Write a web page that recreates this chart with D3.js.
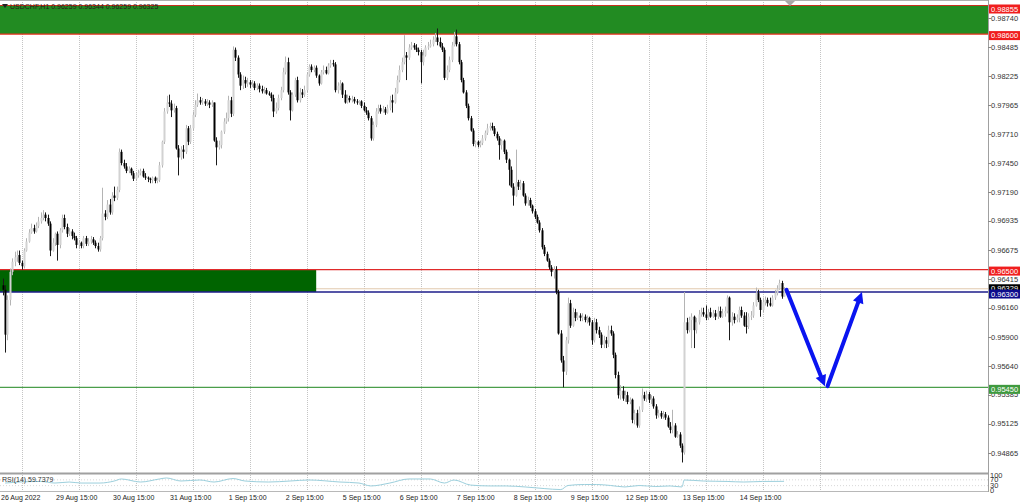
<!DOCTYPE html>
<html><head><meta charset="utf-8">
<script src="https://cdn.jsdelivr.net/npm/d3@7"></script>
<style>
body{margin:0;background:#fff;overflow:hidden}
svg{display:block}
text{font-family:"Liberation Sans",Arial,sans-serif}
</style>
</head><body>
<svg id="c" width="1024" height="503"></svg>
<script>
// ---- DATA (USDCHF H1, bar 0 = 26 Aug 2022 07:00) ----
const opens=[
0.9636,0.9632,0.9592,0.9623,0.9648,0.9657,0.9661,0.9663,0.9656,0.9653,
0.9667,0.9675,0.9683,0.9687,0.9684,0.9689,0.9693,0.9696,0.9699,0.9696,
0.9691,0.9667,0.9674,0.9682,0.9672,0.9685,0.9696,0.9688,0.9682,0.9684,
0.9680,0.9678,0.9672,0.9674,0.9671,0.9678,0.9673,0.9675,0.9677,0.9674,
0.9671,0.9668,0.9678,0.9700,0.9697,0.9708,0.9701,0.9716,0.9714,0.9721,
0.9755,0.9745,0.9742,0.9738,0.9740,0.9736,0.9731,0.9734,0.9736,0.9738,
0.9733,0.9732,0.9731,0.9730,0.9732,0.9729,0.9730,0.9743,0.9764,0.9791,
0.9799,0.9798,0.9792,0.9794,0.9758,0.9750,0.9757,0.9755,0.9776,0.9764,
0.9776,0.9788,0.9797,0.9801,0.9799,0.9800,0.9798,0.9799,0.9797,0.9799,
0.9765,0.9759,0.9761,0.9773,0.9782,0.9785,0.9801,0.9789,0.9846,0.9839,
0.9824,0.9814,0.9819,0.9816,0.9817,0.9815,0.9816,0.9812,0.9814,0.9811,
0.9809,0.9810,0.9807,0.9806,0.9803,0.9791,0.9794,0.9803,0.9810,0.9826,
0.9835,0.9808,0.9792,0.9806,0.9819,0.9801,0.9808,0.9806,0.9810,0.9824,
0.9831,0.9828,0.9830,0.9823,0.9816,0.9826,0.9828,0.9825,0.9832,0.9834,
0.9833,0.9810,0.9814,0.9816,0.9806,0.9799,0.9803,0.9801,0.9802,0.9800,
0.9799,0.9800,0.9796,0.9792,0.9790,0.9785,0.9767,0.9779,0.9791,0.9794,
0.9791,0.9793,0.9790,0.9794,0.9801,0.9799,0.9808,0.9819,0.9828,0.9835,
0.9841,0.9839,0.9848,0.9850,0.9848,0.9846,0.9844,0.9835,0.9841,0.9848,
0.9849,0.9851,0.9855,0.9857,0.9853,0.9849,0.9846,0.9821,0.9828,0.9837,
0.9850,0.9858,0.9851,0.9835,0.9819,0.9808,0.9796,0.9785,0.9774,0.9762,
0.9764,0.9761,0.9763,0.9767,0.9772,0.9776,0.9778,0.9776,0.9771,0.9767,
0.9761,0.9765,0.9755,0.9748,0.9739,0.9724,0.9716,0.9728,0.9724,0.9727,
0.9716,0.9709,0.9712,0.9707,0.9702,0.9697,0.9692,0.9685,0.9670,0.9664,
0.9658,0.9652,0.9648,0.9650,0.9630,0.9593,0.9569,0.9559,0.9587,0.9620,
0.9600,0.9612,0.9607,0.9609,0.9607,0.9608,0.9605,0.9607,0.9603,0.9587,
0.9603,0.9596,0.9592,0.9583,0.9587,0.9584,0.9596,0.9593,0.9574,0.9556,
0.9538,0.9542,0.9535,0.9538,0.9532,0.9534,0.9516,0.9522,0.9511,0.9525,
0.9538,0.9535,0.9539,0.9534,0.9535,0.9528,0.9520,0.9522,0.9519,0.9521,
0.9518,0.9510,0.9507,0.9511,0.9501,0.9503,0.9493,0.9487,0.9603,0.9596,
0.9605,0.9608,0.9596,0.9603,0.9610,0.9612,0.9610,0.9607,0.9612,0.9608,
0.9611,0.9608,0.9613,0.9608,0.9611,0.9613,0.9625,0.9603,0.9608,0.9605,
0.9607,0.9614,0.9609,0.9600,0.9599,0.9608,0.9609,0.9618,0.9629,0.9623,
0.9614,0.9621,0.9623,0.9620,0.9618,0.9625,0.9629,0.9633,0.9638,0.96259];
const highs=[
0.9642,0.9636,0.9627,0.9651,0.9660,0.9666,0.9667,0.9667,0.9658,0.9669,
0.9678,0.9686,0.9691,0.9690,0.9692,0.9697,0.9701,0.9703,0.9701,0.9699,
0.9693,0.9678,0.9683,0.9684,0.9687,0.9699,0.9699,0.9691,0.9687,0.9686,
0.9683,0.9680,0.9676,0.9675,0.9680,0.9680,0.9678,0.9680,0.9679,0.9676,
0.9674,0.9680,0.9723,0.9703,0.9712,0.9713,0.9719,0.9724,0.9724,0.9758,
0.9757,0.9748,0.9745,0.9742,0.9741,0.9738,0.9737,0.9739,0.9740,0.9740,
0.9736,0.9733,0.9732,0.9733,0.9733,0.9732,0.9746,0.9765,0.9794,0.9805,
0.9806,0.9801,0.9798,0.9796,0.9761,0.9760,0.9761,0.9779,0.9778,0.9779,
0.9791,0.9801,0.9807,0.9804,0.9803,0.9802,0.9802,0.9801,0.9801,0.9799,
0.9768,0.9765,0.9774,0.9785,0.9790,0.9805,0.9804,0.9849,0.9848,0.9841,
0.9826,0.9823,0.9822,0.9821,0.9819,0.9819,0.9818,0.9816,0.9816,0.9814,
0.9813,0.9812,0.9809,0.9808,0.9806,0.9799,0.9806,0.9813,0.9830,0.9840,
0.9839,0.9810,0.9808,0.9821,0.9822,0.9812,0.9811,0.9814,0.9826,0.9833,
0.9833,0.9832,0.9832,0.9824,0.9828,0.9832,0.9831,0.9834,0.9837,0.9837,
0.9835,0.9817,0.9819,0.9817,0.9810,0.9806,0.9805,0.9805,0.9804,0.9802,
0.9801,0.9801,0.9799,0.9795,0.9792,0.9787,0.9782,0.9794,0.9797,0.9797,
0.9796,0.9795,0.9797,0.9805,0.9806,0.9812,0.9823,0.9832,0.9839,0.9859,
0.9844,0.9851,0.9853,0.9852,0.9851,0.9848,0.9846,0.9846,0.9850,0.9853,
0.9855,0.9858,0.9861,0.9865,0.9857,0.9852,0.9848,0.9832,0.9840,0.9853,
0.9862,0.9864,0.9853,0.9837,0.9821,0.9810,0.9798,0.9787,0.9776,0.9765,
0.9765,0.9765,0.9770,0.9774,0.9780,0.9781,0.9781,0.9778,0.9773,0.9769,
0.9766,0.9766,0.9757,0.9749,0.9742,0.9727,0.9757,0.9730,0.9730,0.9729,
0.9718,0.9715,0.9714,0.9708,0.9704,0.9699,0.9694,0.9687,0.9672,0.9666,
0.9660,0.9654,0.9653,0.9653,0.9632,0.9596,0.9573,0.9590,0.9625,0.9623,
0.9616,0.9615,0.9612,0.9611,0.9611,0.9610,0.9609,0.9608,0.9605,0.9607,
0.9606,0.9599,0.9594,0.9591,0.9590,0.9600,0.9600,0.9595,0.9576,0.9559,
0.9547,0.9546,0.9542,0.9541,0.9536,0.9535,0.9525,0.9525,0.9528,0.9544,
0.9541,0.9542,0.9541,0.9538,0.9537,0.9530,0.9525,0.9524,0.9524,0.9523,
0.9520,0.9514,0.9525,0.9513,0.9506,0.9505,0.9495,0.9630,0.9607,0.9608,
0.9611,0.9609,0.9607,0.9614,0.9616,0.9616,0.9618,0.9615,0.9616,0.9614,
0.9614,0.9617,0.9617,0.9615,0.9617,0.9627,0.9626,0.9612,0.9611,0.9610,
0.9617,0.9617,0.9612,0.9612,0.9611,0.9613,0.9621,0.9634,0.9632,0.9625,
0.9625,0.9626,0.9625,0.9625,0.9627,0.9632,0.9636,0.9641,0.9640,0.96344];
const lows=[
0.9627,0.9576,0.9587,0.9618,0.9645,0.9653,0.9657,0.9654,0.9650,0.9651,
0.9666,0.9674,0.9682,0.9682,0.9683,0.9687,0.9691,0.9694,0.9693,0.9689,
0.9662,0.9666,0.9671,0.9658,0.9669,0.9683,0.9686,0.9679,0.9680,0.9677,
0.9676,0.9669,0.9669,0.9669,0.9669,0.9671,0.9671,0.9673,0.9672,0.9669,
0.9666,0.9666,0.9676,0.9694,0.9695,0.9699,0.9699,0.9711,0.9712,0.9719,
0.9743,0.9740,0.9736,0.9736,0.9734,0.9729,0.9729,0.9732,0.9734,0.9732,
0.9730,0.9728,0.9727,0.9727,0.9727,0.9727,0.9728,0.9741,0.9762,0.9789,
0.9795,0.9786,0.9790,0.9757,0.9734,0.9748,0.9749,0.9753,0.9761,0.9762,
0.9774,0.9786,0.9795,0.9797,0.9797,0.9796,0.9796,0.9794,0.9795,0.9764,
0.9743,0.9757,0.9758,0.9771,0.9780,0.9782,0.9786,0.9787,0.9836,0.9821,
0.9810,0.9811,0.9812,0.9813,0.9812,0.9813,0.9810,0.9810,0.9808,0.9807,
0.9807,0.9806,0.9805,0.9800,0.9786,0.9789,0.9792,0.9801,0.9808,0.9824,
0.9806,0.9783,0.9791,0.9804,0.9799,0.9799,0.9803,0.9804,0.9808,0.9822,
0.9826,0.9826,0.9821,0.9814,0.9815,0.9824,0.9824,0.9824,0.9830,0.9831,
0.9808,0.9807,0.9810,0.9803,0.9798,0.9798,0.9799,0.9799,0.9798,0.9797,
0.9797,0.9794,0.9791,0.9788,0.9783,0.9765,0.9765,0.9777,0.9789,0.9789,
0.9790,0.9788,0.9789,0.9792,0.9790,0.9798,0.9807,0.9817,0.9826,0.9833,
0.9819,0.9837,0.9846,0.9846,0.9844,0.9841,0.9816,0.9832,0.9840,0.9846,
0.9848,0.9849,0.9853,0.9850,0.9848,0.9844,0.9819,0.9819,0.9826,0.9835,
0.9849,0.9849,0.9833,0.9817,0.9807,0.9794,0.9783,0.9773,0.9760,0.9759,
0.9759,0.9759,0.9761,0.9765,0.9770,0.9774,0.9774,0.9769,0.9765,0.9748,
0.9757,0.9753,0.9745,0.9725,0.9723,0.9707,0.9715,0.9721,0.9721,0.9715,
0.9707,0.9707,0.9705,0.9700,0.9695,0.9691,0.9683,0.9668,0.9662,0.9657,
0.9650,0.9644,0.9642,0.9628,0.9592,0.9567,0.9545,0.9556,0.9584,0.9598,
0.9599,0.9604,0.9605,0.9604,0.9604,0.9603,0.9602,0.9600,0.9583,0.9585,
0.9593,0.9589,0.9580,0.9580,0.9580,0.9581,0.9591,0.9571,0.9553,0.9535,
0.9534,0.9533,0.9532,0.9530,0.9530,0.9513,0.9512,0.9509,0.9509,0.9523,
0.9533,0.9532,0.9531,0.9530,0.9526,0.9517,0.9518,0.9517,0.9517,0.9516,
0.9509,0.9504,0.9504,0.9500,0.9500,0.9491,0.9478,0.9485,0.9593,0.9594,
0.9580,0.9580,0.9593,0.9601,0.9608,0.9608,0.9605,0.9605,0.9607,0.9607,
0.9605,0.9606,0.9607,0.9607,0.9608,0.9611,0.9587,0.9600,0.9602,0.9603,
0.9603,0.9607,0.9599,0.9593,0.9597,0.9605,0.9607,0.9617,0.9621,0.9608,
0.9612,0.9618,0.9617,0.9617,0.9617,0.9623,0.9627,0.9632,0.9624,0.96259];
const closes=[
0.9632,0.9592,0.9623,0.9648,0.9657,0.9661,0.9663,0.9656,0.9653,0.9667,
0.9675,0.9683,0.9687,0.9684,0.9689,0.9693,0.9696,0.9699,0.9696,0.9691,
0.9667,0.9674,0.9682,0.9672,0.9685,0.9696,0.9688,0.9682,0.9684,0.9680,
0.9678,0.9672,0.9674,0.9671,0.9678,0.9673,0.9675,0.9677,0.9674,0.9671,
0.9668,0.9678,0.9700,0.9697,0.9708,0.9701,0.9716,0.9714,0.9721,0.9755,
0.9745,0.9742,0.9738,0.9740,0.9736,0.9731,0.9734,0.9736,0.9738,0.9733,
0.9732,0.9731,0.9730,0.9732,0.9729,0.9730,0.9743,0.9764,0.9791,0.9799,
0.9798,0.9792,0.9794,0.9758,0.9750,0.9757,0.9755,0.9776,0.9764,0.9776,
0.9788,0.9797,0.9801,0.9799,0.9800,0.9798,0.9799,0.9797,0.9799,0.9765,
0.9759,0.9761,0.9773,0.9782,0.9785,0.9801,0.9789,0.9846,0.9839,0.9824,
0.9814,0.9819,0.9816,0.9817,0.9815,0.9816,0.9812,0.9814,0.9811,0.9809,
0.9810,0.9807,0.9806,0.9803,0.9791,0.9794,0.9803,0.9810,0.9826,0.9835,
0.9808,0.9792,0.9806,0.9819,0.9801,0.9808,0.9806,0.9810,0.9824,0.9831,
0.9828,0.9830,0.9823,0.9816,0.9826,0.9828,0.9825,0.9832,0.9834,0.9833,
0.9810,0.9814,0.9816,0.9806,0.9799,0.9803,0.9801,0.9802,0.9800,0.9799,
0.9800,0.9796,0.9792,0.9790,0.9785,0.9767,0.9779,0.9791,0.9794,0.9791,
0.9793,0.9790,0.9794,0.9801,0.9799,0.9808,0.9819,0.9828,0.9835,0.9841,
0.9839,0.9848,0.9850,0.9848,0.9846,0.9844,0.9835,0.9841,0.9848,0.9849,
0.9851,0.9855,0.9857,0.9853,0.9849,0.9846,0.9821,0.9828,0.9837,0.9850,
0.9858,0.9851,0.9835,0.9819,0.9808,0.9796,0.9785,0.9774,0.9762,0.9764,
0.9761,0.9763,0.9767,0.9772,0.9776,0.9778,0.9776,0.9771,0.9767,0.9761,
0.9765,0.9755,0.9748,0.9739,0.9724,0.9716,0.9728,0.9724,0.9727,0.9716,
0.9709,0.9712,0.9707,0.9702,0.9697,0.9692,0.9685,0.9670,0.9664,0.9658,
0.9652,0.9648,0.9650,0.9630,0.9593,0.9569,0.9559,0.9587,0.9620,0.9600,
0.9612,0.9607,0.9609,0.9607,0.9608,0.9605,0.9607,0.9603,0.9587,0.9603,
0.9596,0.9592,0.9583,0.9587,0.9584,0.9596,0.9593,0.9574,0.9556,0.9538,
0.9542,0.9535,0.9538,0.9532,0.9534,0.9516,0.9522,0.9511,0.9525,0.9538,
0.9535,0.9539,0.9534,0.9535,0.9528,0.9520,0.9522,0.9519,0.9521,0.9518,
0.9510,0.9507,0.9511,0.9501,0.9503,0.9493,0.9487,0.9603,0.9596,0.9605,
0.9608,0.9596,0.9603,0.9610,0.9612,0.9610,0.9607,0.9612,0.9608,0.9611,
0.9608,0.9613,0.9608,0.9611,0.9613,0.9625,0.9603,0.9608,0.9605,0.9607,
0.9614,0.9609,0.9600,0.9599,0.9608,0.9609,0.9618,0.9629,0.9623,0.9614,
0.9621,0.9623,0.9620,0.9618,0.9625,0.9629,0.9633,0.9638,0.9626,0.96325];

const rsiBars=[1,7,16,22,28,33,41,47,50,58,66,69,75,83,89,97,102,112,121,129,142,150,155,163,171,180,186,190,197,205,212,220,228,235,238,245,250,256,262,268,275,281,286,287,295,305,312,320,329];
const rsiValues=[48,55,59,48,55,48,48,62,76,55,76,83,62,69,55,79,62,55,62,69,55,48,28,48,76,76,48,69,34,28,28,21,10,3,31,38,38,31,21,31,24,28,21,69,62,59,55,59,59.7379];

const priceTicks=[0.98740,0.98485,0.98225,0.97965,0.97710,0.97450,0.97190,0.96935,0.96675,0.96415,0.96160,0.95900,0.95640,0.95385,0.95125,0.94865];
const gridBars=[8,32,56,80,104,128,152,176,200,224,248,272,296,320,344];
const timeLabels=["","29 Aug 15:00","30 Aug 15:00","31 Aug 15:00","1 Sep 15:00","2 Sep 15:00","5 Sep 15:00","6 Sep 15:00","7 Sep 15:00","8 Sep 15:00","9 Sep 15:00","12 Sep 15:00","13 Sep 15:00","14 Sep 15:00",""];
const firstLabel="26 Aug 2022";

const upperZone=[0.98855,0.98600];
const lowerZone=[0.96500,0.96300];
const lowerZoneEndBar=132;
const supportLevel=0.95450;
const bidPrice=0.96329;
const arrowFromBars=[330,347.3];
const arrowFromPrices=[0.9632,0.9546];
const arrowToBars=[346.2,361.8];
const arrowToPrices=[0.9546,0.9630];
const headerText="USDCHF,H1  0.96259 0.96344 0.96259 0.96325";
const rsiText="RSI(14) 59.7379";
const rsiLevels=[100,70,30,0];

// ---- SCALES ----
const svg=d3.select("#c");
const plotR=988;
const x=d3.scaleLinear().domain([0,415]).range([2.7,988.3]);
const y=d3.scaleLinear().domain([0.94704,0.98904]).range([471,0]);
const yR=d3.scaleLinear().domain([0,100]).range([490,475.5]);
const fmt=d3.format(".5f");

svg.append("rect").attr("width",1024).attr("height",503).attr("fill","#fff");

// grid
const grid=svg.append("g");
gridBars.forEach(b=>{
  const gx=Math.round(x(b))+0.5;
  grid.append("line").attr("x1",gx).attr("x2",gx).attr("y1",0).attr("y2",473)
    .attr("stroke","#c4c4c4").attr("stroke-dasharray","1,1");
  grid.append("line").attr("x1",gx).attr("x2",gx).attr("y1",475).attr("y2",491)
    .attr("stroke","#c4c4c4").attr("stroke-dasharray","1,1");
});

// bid line
svg.append("line").attr("x1",0).attr("x2",plotR).attr("y1",y(bidPrice)).attr("y2",y(bidPrice))
  .attr("stroke","#e2c9ad").attr("stroke-width",1);

// zones
svg.append("rect").attr("x",0).attr("width",plotR).attr("y",y(upperZone[0])).attr("height",y(upperZone[1])-y(upperZone[0]))
  .attr("fill","#228b22");
svg.append("rect").attr("x",0).attr("width",x(lowerZoneEndBar)).attr("y",y(lowerZone[0])).attr("height",y(lowerZone[1])-y(lowerZone[0]))
  .attr("fill","#006400");

function hline(p,color,w){
  svg.append("line").attr("x1",0).attr("x2",plotR).attr("y1",y(p)).attr("y2",y(p))
    .attr("stroke",color).attr("stroke-width",w);
}
hline(upperZone[0],"#c8321e",1.2);
hline(upperZone[1],"#e8301e",1.2);
hline(lowerZone[0],"#e02a2a",1.2);
hline(lowerZone[1],"#1c1c8a",1.4);
hline(supportLevel,"#4a9e4a",1.4);

// candles
const cg=svg.append("g");
closes.forEach((c,i)=>{
  const o=opens[i], h=highs[i], l=lows[i];
  const up=c>=o;
  const cx=Math.round(x(i));
  cg.append("line").attr("x1",cx+0.5).attr("x2",cx+0.5).attr("y1",y(h)).attr("y2",y(l))
    .attr("stroke",up?"#b4b4b4":"#1a1a1a").attr("stroke-width",1);
  const top=y(Math.max(o,c)), bot=y(Math.min(o,c));
  cg.append("rect").attr("x",cx-0.5).attr("width",2).attr("y",top).attr("height",Math.max(1,bot-top))
    .attr("fill",up?"#d2d2d2":"#000");
});

// arrows
const ag=svg.append("g");
arrowFromBars.forEach((b,k)=>{
  const x0=x(b), y0=y(arrowFromPrices[k]), x1=x(arrowToBars[k]), y1=y(arrowToPrices[k]);
  const ang=Math.atan2(y1-y0,x1-x0);
  const hl=11, hw=5.5;
  const bx=x1-hl*Math.cos(ang), by=y1-hl*Math.sin(ang);
  ag.append("line").attr("x1",x0).attr("y1",y0).attr("x2",bx).attr("y2",by)
    .attr("stroke","#0a14f0").attr("stroke-width",4).attr("stroke-linecap","round");
  const px=-Math.sin(ang), py=Math.cos(ang);
  ag.append("path").attr("d",`M${x1},${y1}L${bx+px*hw},${by+py*hw}L${bx-px*hw},${by-py*hw}Z`)
    .attr("fill","#0a14f0");
});

// header
svg.append("path").attr("d","M2,4L8,4L5,8Z").attr("fill","#222");
svg.append("text").attr("x",10).attr("y",8.5).attr("font-size",7).attr("fill","#2a1a1a").text(headerText);

// shift marker
const sx=x(331.5);
svg.append("path").attr("d",`M${sx-6},0L${sx+6},0L${sx},6Z`).attr("fill","#a8a8a8");

// panel borders
svg.append("line").attr("x1",0).attr("x2",plotR).attr("y1",0.5).attr("y2",0.5).attr("stroke","#b0b0b0");
svg.append("rect").attr("x",0).attr("y",472.5).attr("width",plotR).attr("height",2).attr("fill","#a0a0a0");
svg.append("line").attr("x1",0).attr("x2",plotR).attr("y1",491.5).attr("y2",491.5).attr("stroke","#b8b8b8");
svg.append("line").attr("x1",plotR+0.5).attr("x2",plotR+0.5).attr("y1",0).attr("y2",492).attr("stroke","#a0a0a0");

// price ticks
const ax=svg.append("g");
priceTicks.forEach(p=>{
  ax.append("line").attr("x1",plotR).attr("x2",plotR+3).attr("y1",Math.round(y(p))+0.5).attr("y2",Math.round(y(p))+0.5).attr("stroke","#888");
  ax.append("text").attr("x",991).attr("y",y(p)).attr("dy","0.35em").attr("font-size",7.5).attr("fill","#333").text(fmt(p));
});

// level labels
function priceBox(p,color,off){
  const cy=y(p)+off;
  ax.append("rect").attr("x",989).attr("y",cy-4.5).attr("width",31).attr("height",9).attr("fill",color);
  ax.append("text").attr("x",991).attr("y",cy).attr("dy","0.35em").attr("font-size",7.5).attr("fill","#fff").text(fmt(p));
}
priceBox(upperZone[0],"#f01e1e",3.5);
priceBox(upperZone[1],"#f01e1e",1.5);
priceBox(lowerZone[0],"#f01e1e",1.5);
priceBox(bidPrice,"#000",0);
priceBox(lowerZone[1],"#0c0c8c",2);
priceBox(supportLevel,"#3f9a3f",2);

// RSI panel
const rg=svg.append("g");
[70,30].forEach(v=>{
  rg.append("line").attr("x1",0).attr("x2",plotR).attr("y1",yR(v)).attr("y2",yR(v))
    .attr("stroke","#d8d8d8").attr("stroke-dasharray","1,2");
});
const rline=d3.line().x(d=>x(d[0])).y(d=>yR(d[1])).curve(d3.curveMonotoneX);
rg.append("path").datum(rsiBars.map((b,k)=>[b,rsiValues[k]])).attr("d",rline)
  .attr("fill","none").attr("stroke","#9ccfdc").attr("stroke-width",1);
rg.append("text").attr("x",2).attr("y",482).attr("font-size",7).attr("fill","#333").text(rsiText);
rsiLevels.forEach(v=>{
  rg.append("text").attr("x",990).attr("y",yR(v)).attr("dy","0.35em").attr("font-size",7.5).attr("fill","#333").text(v);
});

// time labels
const tg=svg.append("g");
tg.append("text").attr("x",1).attr("y",500).attr("font-size",7).attr("fill","#222").text(firstLabel);
gridBars.forEach((b,k)=>{
  if(!timeLabels[k]) return;
  tg.append("text").attr("x",x(b)-2).attr("y",500).attr("text-anchor","middle").attr("font-size",7).attr("fill","#222").text(timeLabels[k]);
});
</script>
</body></html>
